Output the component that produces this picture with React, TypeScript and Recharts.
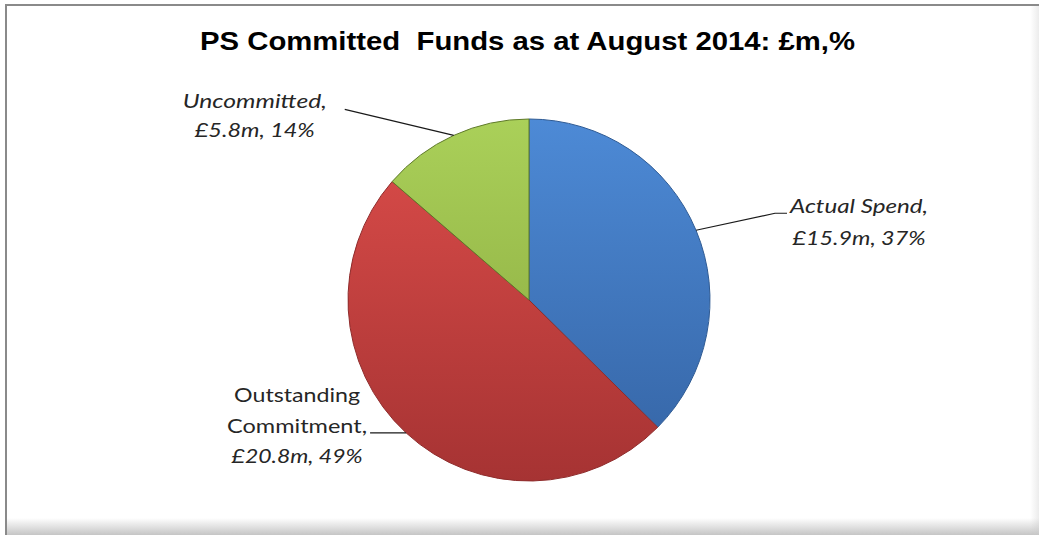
import React from "react";
import { PieChart, Pie, Cell } from "recharts";

const categories = ["Actual Spend", "Outstanding Commitment", "Uncommitted"];
const valuesGBPm = [15.9, 20.8, 5.8];
const percentLabels = ["37%", "49%", "14%"];
const amountLabels = ["£15.9m", "£20.8m", "£5.8m"];

const data = categories.map((name, i) => ({
  name,
  value: valuesGBPm[i],
  amount: amountLabels[i],
  pct: percentLabels[i],
}));

const gradients = [
  { id: "gBlue", top: "#4d8ad6", bottom: "#3463a3", stroke: "#2f5b94" },
  { id: "gRed", top: "#dc4d4a", bottom: "#a63333", stroke: "#8f2c2c" },
  { id: "gGreen", top: "#aad059", bottom: "#86a43c", stroke: "#5f7a2a" },
];

const W = 1039;
const H = 535;
const CX = 529;
const CY = 300;
const R = 181;

// label layout (relative to the slice's outer mid-angle point)
type Line = { text: string; italic: boolean; len: number };
const labelLayout = [
  { path: [[79, -17], [91, -17]], textX: 163, baselines: [-17, 15] },
  { path: [[-36, 0]], textX: -109, baselines: [-31, 0, 30] },
  { path: [[-109, -26]], textX: -199, baselines: [-27, 2] },
];
const labelLines: Line[][] = [
  [
    { text: "Actual Spend,", italic: true, len: 138 },
    { text: `${amountLabels[0]}, ${percentLabels[0]}`, italic: true, len: 133 },
  ],
  [
    { text: "Outstanding", italic: false, len: 126 },
    { text: "Commitment,", italic: false, len: 140 },
    { text: `${amountLabels[1]}, ${percentLabels[1]}`, italic: true, len: 131 },
  ],
  [
    { text: "Uncommitted,", italic: true, len: 144 },
    { text: `${amountLabels[2]}, ${percentLabels[2]}`, italic: true, len: 120 },
  ],
];

const RADIAN = Math.PI / 180;

const renderLabel = (props: any) => {
  const { cx, cy, midAngle, outerRadius, index } = props;
  const ex = cx + outerRadius * Math.cos(-midAngle * RADIAN);
  const ey = cy + outerRadius * Math.sin(-midAngle * RADIAN);
  const lay = labelLayout[index];
  const pts = [[ex, ey], ...lay.path.map(([dx, dy]) => [ex + dx, ey + dy])];
  return (
    <g key={`lbl-${index}`}>
      <polyline
        points={pts.map((p) => p.join(",")).join(" ")}
        fill="none"
        stroke="#1a1a1a"
        strokeWidth={1.2}
      />
      {labelLines[index].map((ln, j) => (
        <text
          key={j}
          x={ex + lay.textX}
          y={ey + lay.baselines[j]}
          textAnchor="middle"
          fontFamily="Lato, 'Open Sans', sans-serif"
          fontSize={20}
          fontStyle={ln.italic ? "italic" : "normal"}
          fill="#262626"
          textLength={ln.len}
          lengthAdjust="spacingAndGlyphs"
        >
          {ln.text}
        </text>
      ))}
    </g>
  );
};

export default function App() {
  return (
    <div
      style={{
        position: "absolute",
        left: 0,
        top: 0,
        width: W,
        height: H,
        background: "#fff",
        overflow: "hidden",
      }}
    >
      {/* frame */}
      <div
        style={{
          position: "absolute",
          left: 5,
          top: 4,
          width: W - 5,
          height: H - 4,
          borderTop: "2px solid #8a8a8a",
          borderLeft: "2px solid #8a8a8a",
          boxSizing: "border-box",
        }}
      />
      <div
        style={{
          position: "absolute",
          left: 7,
          top: 518,
          width: W - 7,
          height: H - 518,
          background: "linear-gradient(to bottom, rgba(255,255,255,0), rgba(150,150,150,0.55))",
        }}
      />
      <div
        style={{
          position: "absolute",
          left: 1030,
          top: 6,
          width: 9,
          height: H - 6,
          background: "linear-gradient(to right, rgba(255,255,255,0), rgba(200,200,200,0.35))",
        }}
      />
      <svg
        width={W}
        height={H}
        style={{ position: "absolute", left: 0, top: 0 }}
      >
        <text
          x={527.5}
          y={50}
          textAnchor="middle"
          fontFamily="'Liberation Sans', Arial, sans-serif"
          fontWeight="bold"
          fontSize={25}
          fill="#000"
          textLength={655}
          lengthAdjust="spacingAndGlyphs"
          style={{ whiteSpace: "pre" }}
        >
          PS Committed{"\u00a0\u00a0"}Funds as at August 2014: £m,%
        </text>
      </svg>
      <div style={{ position: "absolute", left: 0, top: 0 }}>
        <PieChart width={W} height={H} margin={{ top: 0, right: 0, bottom: 0, left: 0 }}>
          <defs>
            {gradients.map((g) => (
              <linearGradient
                key={g.id}
                id={g.id}
                gradientUnits="userSpaceOnUse"
                x1={0}
                y1={CY - R}
                x2={0}
                y2={CY + R}
              >
                <stop offset="0%" stopColor={g.top} />
                <stop offset="100%" stopColor={g.bottom} />
              </linearGradient>
            ))}
          </defs>
          <Pie
            data={data}
            dataKey="value"
            nameKey="name"
            cx={CX}
            cy={CY}
            outerRadius={R}
            startAngle={90}
            endAngle={-270}
            isAnimationActive={false}
            label={renderLabel}
            labelLine={false}
          >
            {data.map((d, i) => (
              <Cell
                key={d.name}
                fill={`url(#${gradients[i].id})`}
                stroke={gradients[i].stroke}
                strokeWidth={1}
              />
            ))}
          </Pie>
        </PieChart>
      </div>
    </div>
  );
}
